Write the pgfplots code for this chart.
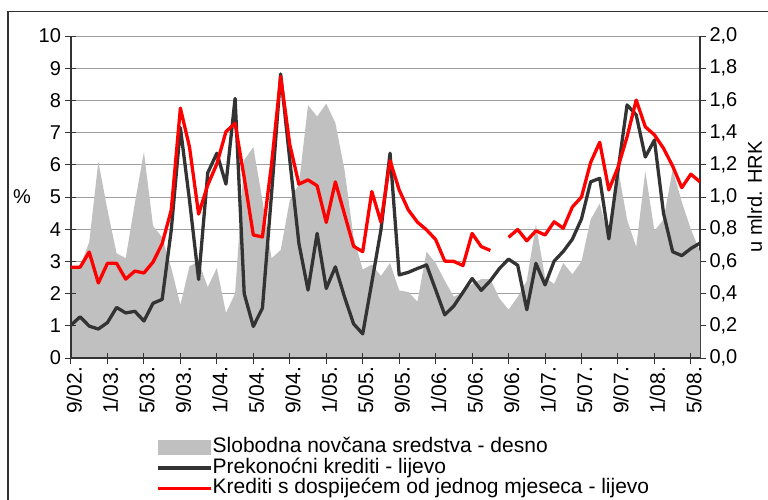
\documentclass[border=0pt]{standalone}
\usepackage{fontspec}
\setmainfont{Liberation Sans}
\usepackage{pgfplots}
\pgfplotsset{compat=1.18}
\usepackage{pgfplotstable}

\definecolor{areagrey}{RGB}{192,192,192}
\definecolor{darkline}{RGB}{51,51,51}
\definecolor{gridgrey}{RGB}{160,160,160}
\definecolor{redline}{RGB}{255,0,0}

\pgfplotsset{
  lineleg/.style={legend image code/.code={\draw[##1] (0pt,0pt) -- (53pt,0pt);}},
  arealeg/.style={legend image code/.code={\fill[areagrey] (0pt,-7pt) rectangle (52pt,7pt);}},
}

\pgfplotstableread{
i black red grey
0 1.02 2.82 0.57
1 1.28 2.82 0.57
2 0.99 3.29 0.72
3 0.90 2.33 1.22
4 1.10 2.94 0.92
5 1.57 2.94 0.65
6 1.40 2.45 0.62
7 1.45 2.70 0.96
8 1.15 2.64 1.28
9 1.70 2.98 0.82
10 1.82 3.55 0.75
11 3.98 4.60 0.56
12 7.15 7.76 0.33
13 4.90 6.55 0.57
14 2.44 4.47 0.60
15 5.75 5.37 0.44
16 6.36 6.03 0.56
17 5.40 7.03 0.28
18 8.06 7.29 0.40
19 2.00 5.60 1.23
20 0.98 3.82 1.31
21 1.55 3.76 0.98
22 5.10 6.02 0.62
23 8.82 8.74 0.67
24 6.15 6.63 0.98
25 3.56 5.40 1.08
26 2.11 5.53 1.57
27 3.87 5.35 1.50
28 2.16 4.21 1.58
29 2.83 5.47 1.46
30 1.90 4.47 1.17
31 1.06 3.47 0.75
32 0.75 3.30 0.55
33 2.35 5.17 0.58
34 3.98 4.22 0.51
35 6.36 6.13 0.59
36 2.58 5.22 0.42
37 2.66 4.60 0.41
38 2.78 4.22 0.35
39 2.89 3.98 0.66
40 2.12 3.68 0.59
41 1.34 3.01 0.48
42 1.62 3.00 0.38
43 2.04 2.87 0.41
44 2.47 3.87 0.46
45 2.10 3.46 0.49
46 2.40 3.34 0.49
47 2.78 nan 0.37
48 3.07 3.75 0.30
49 2.88 3.99 0.38
50 1.50 3.64 0.48
51 2.94 3.95 0.83
52 2.27 3.82 0.50
53 3.01 4.23 0.46
54 3.31 4.03 0.59
55 3.69 4.69 0.52
56 4.32 5.00 0.60
57 5.47 6.07 0.86
58 5.58 6.70 0.96
59 3.70 5.22 0.74
60 5.80 5.92 1.18
61 7.86 6.87 0.86
62 7.55 8.01 0.69
63 6.24 7.18 1.16
64 6.77 6.93 0.79
65 4.49 6.51 0.86
66 3.30 5.96 1.17
67 3.18 5.29 0.97
68 3.40 5.71 0.80
69 3.57 5.47 0.66
}\data

\newcommand{\fs}{\fontsize{20}{24}\selectfont}
\newcommand{\fl}{\fontsize{21}{25}\selectfont}

\begin{document}
\begin{tikzpicture}
\path[use as bounding box] (-71pt,-141pt) rectangle (697pt,358pt);
\draw[darkline, line width=1.2pt] (-63pt,-150pt) -- (-63pt,346.3pt) -- (710pt,346.3pt);

% right axis with the area and the grid
\begin{axis}[
  scale only axis, width=629pt, height=322pt,
  xmin=0, xmax=69, ymin=0, ymax=2,
  axis y line*=right, axis x line=none,
  ytick={0,0.2,0.4,0.6,0.8,1.0,1.2,1.4,1.6,1.8,2.0},
  ymajorgrids, major grid style={gridgrey, line width=1pt},
  y axis line style={darkline, line width=1.3pt, -},
  tick style={darkline, line width=1pt}, major tick length=6pt, tick align=outside,
  yticklabel style={font=\fs, /pgf/number format/.cd, fixed, fixed zerofill, precision=1, use comma, assume math mode=true},
  every axis y label/.style={at={(axis description cs:1.087,0.5)}, rotate=90, anchor=center, font=\fs},
  ylabel={u mlrd. HRK},
]
\addplot[fill=areagrey, draw=none] table[x=i,y=grey]{\data} \closedcycle;
\end{axis}

% left axis with the lines
\begin{axis}[
  scale only axis, width=629pt, height=322pt,
  xmin=0, xmax=69, ymin=0, ymax=10,
  axis x line*=bottom, axis y line*=left,
  axis line style={darkline, line width=1.3pt, -},
  tick style={darkline, line width=1pt}, major tick length=11pt, tick align=center,
  ytick={0,1,...,10},
  yticklabel style={font=\fs, /pgf/number format/assume math mode=true, xshift=-1pt},
  xtick={0,4,...,68},
  xticklabels={9/02.,1/03.,5/03.,9/03.,1/04.,5/04.,9/04.,1/05.,5/05.,9/05.,1/06.,5/06.,9/06.,1/07.,5/07.,9/07.,1/08.,5/08.},
  xticklabel style={rotate=90, anchor=east, font=\fl, yshift=-3pt},
  every axis y label/.style={at={(axis description cs:-0.078,0.5)}, anchor=center, font=\fs},
  ylabel={\%},
  unbounded coords=jump,
  legend cell align=left,
  legend style={at={(axis description cs:0.135,-0.2453)}, anchor=north west, draw=none, fill=none,
    inner sep=0pt, font=\fl, row sep=0pt,
    nodes={inner sep=0.3pt, text height=15pt, text depth=5pt},
    /tikz/every even column/.append style={column sep=2pt}},
]
\addlegendimage{arealeg}
\addlegendentry{Slobodna novčana sredstva - desno}
\addplot[darkline, line width=3.3pt, line join=round, mark=none, lineleg] table[x=i,y=black]{\data};
\addlegendentry{Prekonoćni krediti - lijevo}
\addplot[redline, line width=3.3pt, line join=round, mark=none, lineleg] table[x=i,y=red]{\data};
\addlegendentry{Krediti s dospijećem od jednog mjeseca - lijevo}
\end{axis}
\end{tikzpicture}
\end{document}
